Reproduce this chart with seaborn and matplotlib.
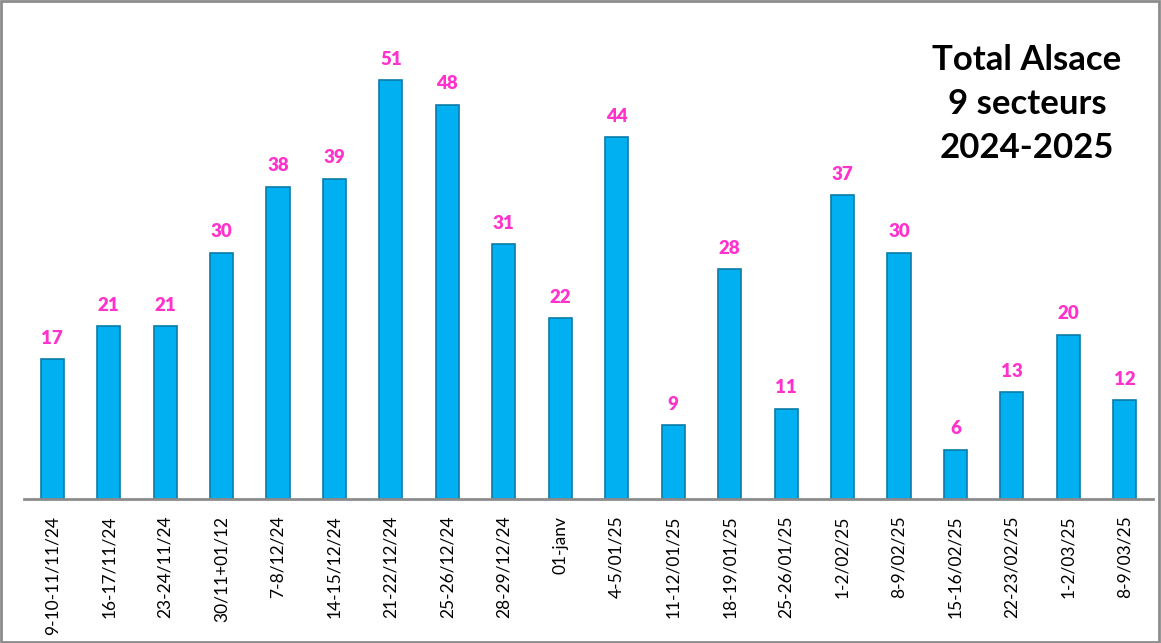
import numpy as np
import matplotlib
matplotlib.use("Agg")
import matplotlib.pyplot as plt
import seaborn as sns
from matplotlib.patches import Rectangle

semaines = ['9-10-11/11/24', '16-17/11/24', '23-24/11/24', '30/11+01/12', '7-8/12/24',
            '14-15/12/24', '21-22/12/24', '25-26/12/24', '28-29/12/24', '01-janv',
            '4-5/01/25', '11-12/01/25', '18-19/01/25', '25-26/01/25', '1-2/02/25',
            '8-9/02/25', '15-16/02/25', '22-23/02/25', '1-2/03/25', '8-9/03/25']
totaux = [17, 21, 21, 30, 38, 39, 51, 48, 31, 22, 44, 9, 28, 11, 37, 30, 6, 13, 20, 12]

sns.set_theme(style="white")
plt.rcParams['font.family'] = ['Lato', 'DejaVu Sans']

fig = plt.figure(figsize=(11.61, 6.43), dpi=100)
ax = fig.add_axes([24/1161, 144/643, (1153-24)/1161, (499-6)/643])

sns.barplot(x=semaines, y=totaux, color='#00B0F0', width=0.41, ax=ax,
            edgecolor='#0A7CA8', linewidth=1.2, saturation=1)

for i, v in enumerate(totaux):
    ax.annotate(str(v), (i, v), xytext=(0, 15), textcoords='offset points',
                ha='center', va='center', color='#FF33CC', fontsize=13.5, fontweight='heavy')

ax.set_ylim(0, 60)
ax.set_xlim(-0.5, len(totaux) - 0.5)
ax.set_yticks([])
ax.set_ylabel('')
ax.tick_params(axis='x', length=0, pad=12, labelsize=12.5, labelrotation=90, colors='black')
for s in ['top', 'right', 'left']:
    ax.spines[s].set_visible(False)
ax.spines['bottom'].set_color('#8C8C8C')
ax.spines['bottom'].set_linewidth(2)

fig.text(1027/1161, 1 - 104/643, 'Total Alsace\n9 secteurs\n2024-2025', ha='center', va='center',
         fontsize=25, fontweight='bold', color='black', linespacing=1.45)

fig.patches.append(Rectangle((0.001, 0.002), 0.997, 0.996, transform=fig.transFigure,
                             fill=False, edgecolor='#8C8C8C', linewidth=2))

fig.savefig('out.png', dpi=100)
